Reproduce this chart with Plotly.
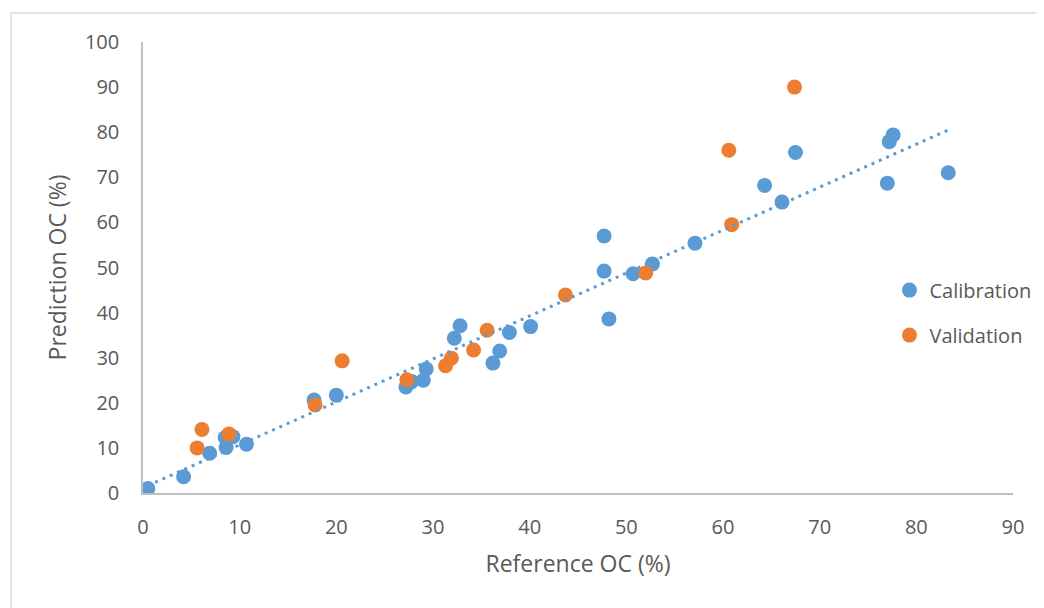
import numpy as np
import plotly.graph_objects as go

# Calibration set (reference OC %, predicted OC %)
cal_x = [0.5, 4.2, 6.9, 8.6, 8.5, 9.3, 10.7, 17.7, 20.0, 27.2, 27.8, 29.0, 29.3,
         32.2, 32.8, 36.2, 36.9, 37.9, 40.1, 47.7, 47.7, 48.2, 50.7, 52.7, 57.1,
         64.3, 66.1, 67.5, 77.0, 77.2, 77.6, 83.3]
cal_y = [1.0, 3.6, 8.8, 10.1, 12.3, 12.5, 10.8, 20.6, 21.7, 23.5, 24.7, 25.0, 27.5,
         34.3, 37.1, 28.8, 31.5, 35.6, 36.9, 57.0, 49.2, 38.6, 48.6, 50.8, 55.4,
         68.2, 64.5, 75.5, 68.7, 77.9, 79.4, 71.0]

# Validation set
val_x = [5.6, 6.1, 8.9, 17.8, 20.6, 27.3, 31.3, 31.9, 34.2, 35.6, 43.7, 52.0, 60.6, 60.9, 67.4]
val_y = [10.0, 14.1, 13.1, 19.5, 29.3, 25.1, 28.2, 29.9, 31.7, 36.1, 43.9, 48.8, 76.0, 59.5, 90.0]

x_ticks = [0, 10, 20, 30, 40, 50, 60, 70, 80, 90]
y_ticks = [0, 10, 20, 30, 40, 50, 60, 70, 80, 90, 100]

BLUE = "#5B9BD5"
ORANGE = "#ED7D31"
GREY = "#595959"
FONT = "Open Sans"

# Linear trendline of the calibration set
slope, intercept = np.polyfit(cal_x, cal_y, 1)
tx = np.array([min(cal_x), max(cal_x)])
ty = slope * tx + intercept

fig = go.Figure()
fig.add_trace(go.Scatter(x=cal_x, y=cal_y, mode="markers", name="Calibration",
                         legendgroup="cal",
                         marker=dict(color=BLUE, size=15, line=dict(width=0))))
fig.add_trace(go.Scatter(x=val_x, y=val_y, mode="markers", name="Validation",
                         legendgroup="val",
                         marker=dict(color=ORANGE, size=15, line=dict(width=0))))
fig.add_trace(go.Scatter(x=tx, y=ty, mode="lines", showlegend=False,
                         line=dict(color=BLUE, width=3, dash="3px,5px"),
                         hoverinfo="skip"))

fig.update_layout(
    width=1044, height=608,
    margin=dict(l=135, r=39, t=34, b=123),
    paper_bgcolor="white", plot_bgcolor="white",
    font=dict(family=FONT, color=GREY, size=20),
    showlegend=True,
    legend=dict(x=0.858, y=0.40, xanchor="left", yanchor="middle",
                traceorder="grouped", tracegroupgap=16,
                font=dict(size=20, color=GREY, family=FONT),
                bgcolor="rgba(0,0,0,0)", itemwidth=30),
    shapes=[dict(type="rect", xref="paper", yref="paper",
                 x0=-0.1517, x1=1.06, y0=-0.3, y1=1.0643,
                 line=dict(color="#D9D9D9", width=1.5), layer="below")],
)
fig.update_xaxes(range=[0, 90], tickvals=x_ticks, showgrid=False, zeroline=False,
                 showline=True, linecolor="#BFBFBF", linewidth=1.5,
                 ticks="outside", ticklen=15, tickcolor="rgba(0,0,0,0)",
                 tickfont=dict(size=20, color=GREY, family=FONT),
                 title=dict(text="Reference OC (%)", font=dict(size=23, color=GREY, family=FONT),
                            standoff=17))
fig.update_yaxes(range=[0, 100], tickvals=y_ticks, showgrid=False, zeroline=False,
                 showline=True, linecolor="#BFBFBF", linewidth=1.5,
                 ticks="outside", ticklen=18, tickcolor="rgba(0,0,0,0)",
                 tickfont=dict(size=20, color=GREY, family=FONT),
                 title=dict(text="Prediction OC (%)", font=dict(size=23, color=GREY, family=FONT),
                            standoff=12))

fig.write_html("out.html")
